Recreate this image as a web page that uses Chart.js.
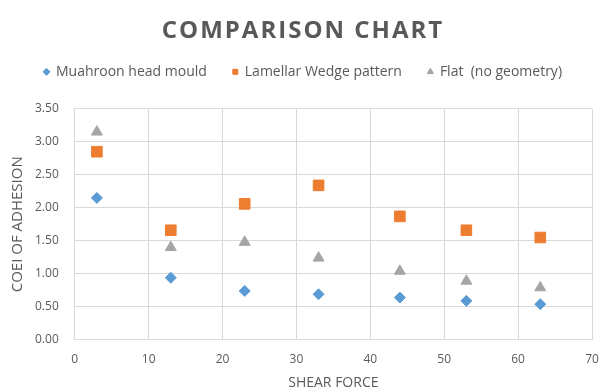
<!DOCTYPE html>
<html>
<head>
<meta charset="utf-8">
<script src="https://cdn.jsdelivr.net/npm/chart.js@4/dist/chart.umd.min.js"></script>
<style>
  html, body { margin: 0; padding: 0; background: #ffffff; }
  #wrap { width: 614px; height: 391px; }
</style>
</head>
<body>
<div id="wrap"><canvas id="c" width="614" height="391"></canvas></div>
<script>
// Shear force positions shared by all three surfaces
const shearForce = [3, 13, 23, 33, 44, 53, 63];

// Coefficient of adhesion per surface
const mushroomHead = [2.15, 0.94, 0.74, 0.69, 0.64, 0.59, 0.54];
const lamellarWedge = [2.85, 1.66, 2.06, 2.34, 1.87, 1.66, 1.55];
const flatSurface = [3.15, 1.40, 1.48, 1.24, 1.04, 0.89, 0.79];

const seriesNames = ['Muahroon head mould', 'Lamellar Wedge pattern', 'Flat  (no geometry)'];

const toPoints = ys => ys.map((y, i) => ({ x: shearForce[i], y }));

const textColor = '#595959';
const gridColor = '#d9d9d9';
const fontFamily = '"Open Sans", "Liberation Sans", sans-serif';

// Draws the chart title with wider letter spacing
const spacedTitle = {
  id: 'spacedTitle',
  afterLayout(chart) {
    const block = chart.titleBlock;
    if (!block || block._spaced) return;
    const baseDraw = block.draw.bind(block);
    block.draw = function () {
      const ctx = chart.ctx;
      const prev = ctx.letterSpacing;
      ctx.letterSpacing = '2px';
      baseDraw();
      ctx.letterSpacing = prev || '0px';
    };
    block._spaced = true;
  }
};

new Chart(document.getElementById('c'), {
  type: 'scatter',
  data: {
    datasets: [
      {
        label: seriesNames[0],
        data: toPoints(mushroomHead),
        pointStyle: 'rectRot',
        radius: 5.5,
        backgroundColor: '#5b9bd5',
        borderColor: '#5b9bd5'
      },
      {
        label: seriesNames[1],
        data: toPoints(lamellarWedge),
        pointStyle: 'rect',
        radius: 7.5,
        backgroundColor: '#ed7d31',
        borderColor: '#ed7d31'
      },
      {
        label: seriesNames[2],
        data: toPoints(flatSurface),
        pointStyle: 'triangle',
        radius: 6.3,
        backgroundColor: '#a5a5a5',
        borderColor: '#a5a5a5'
      }
    ]
  },
  plugins: [spacedTitle],
  options: {
    responsive: false,
    animation: false,
    layout: { padding: { left: 14, right: 22, top: 0, bottom: 0 } },
    plugins: {
      title: {
        display: true,
        text: 'COMPARISON CHART',
        color: textColor,
        font: { family: fontFamily, size: 24, weight: 'bold' },
        padding: { top: 17, bottom: -7 }
      },
      // empty spacer between the legend and the plot area
      subtitle: {
        display: true,
        text: '',
        position: 'top',
        weight: 500,
        font: { size: 10 },
        padding: { top: 8, bottom: 0 }
      },
      legend: {
        position: 'top',
        labels: {
          usePointStyle: true,
          boxWidth: 5,
          boxHeight: 5,
          padding: 26,
          color: textColor,
          font: { family: fontFamily, size: 14 }
        }
      },
      tooltip: { enabled: false }
    },
    scales: {
      x: {
        type: 'linear',
        min: 0,
        max: 70,
        ticks: { stepSize: 10, padding: 13, color: textColor, font: { family: fontFamily, size: 12 } },
        grid: { color: gridColor, drawTicks: false },
        border: { color: gridColor },
        title: {
          display: true,
          text: 'SHEAR FORCE',
          color: textColor,
          font: { family: fontFamily, size: 14 },
          padding: { top: -6, bottom: 0 }
        }
      },
      y: {
        min: 0,
        max: 3.5,
        ticks: {
          stepSize: 0.5,
          padding: 16,
          color: textColor,
          font: { family: fontFamily, size: 12 },
          callback: v => v.toFixed(2)
        },
        grid: { color: gridColor, drawTicks: false },
        border: { color: gridColor },
        title: {
          display: true,
          text: 'COEI OF ADHESION',
          color: textColor,
          font: { family: fontFamily, size: 15 },
          padding: { top: -5, bottom: -8 }
        }
      }
    }
  }
});
</script>
</body>
</html>
